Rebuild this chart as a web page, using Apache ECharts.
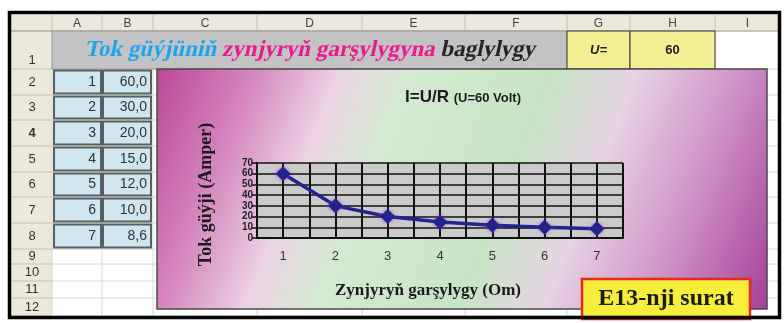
<!DOCTYPE html>
<html>
<head>
<meta charset="utf-8">
<script src="https://cdn.jsdelivr.net/npm/echarts@6/dist/echarts.min.js"></script>
<style>
  html, body { margin: 0; padding: 0; background: #fff; }
  #chart { width: 784px; height: 323px; }
</style>
</head>
<body>
<div id="chart"></div>
<script>
// chart data
const resistance = ['1', '2', '3', '4', '5', '6', '7']
const current = [60, 30, 20, 15, 12, 10, 8.6]
const yMax = 70
const yStep = 10

// sheet labels
const colLetters = ['A', 'B', 'C', 'D', 'E', 'F', 'G', 'H', 'I']
const rowNumbers = ['1', '2', '3', '4', '5', '6', '7', '8', '9', '10', '11', '12']
const titleParts = ['Tok güýjüniň ', 'zynjyryň garşylygyna ', 'baglylygy']
const titleColors = ['#1ea6ec', '#ec1a8c', '#262626']
const voltLabel = 'U='
const voltValue = '60'

// sheet layout (pixels)
const colEdges = [52, 102, 153, 257, 362, 465, 567, 630, 715, 780]
const rowEdges = [31, 69, 95, 120, 146, 172, 197, 223, 249, 264, 281, 298, 316]
const headTop = 15
const sheetLeft = 11

const headFill = '#ebe8dc'
const els = []

function line(x1, y1, x2, y2, color, w) {
  els.push({ type: 'line', shape: { x1, y1, x2, y2 }, style: { stroke: color, lineWidth: w || 1 }, silent: true })
}
function rect(x, y, width, height, style) {
  els.push({ type: 'rect', shape: { x, y, width, height }, style, silent: true })
}
function text(t, x, y, font, fill, align) {
  els.push({
    type: 'text', silent: true,
    style: { text: t, x, y, font, fill, align: align || 'center', verticalAlign: 'middle',
      textAlign: align || 'center', textVerticalAlign: 'middle' }
  })
}

// page + header strips
rect(0, 0, 784, 323, { fill: '#ffffff' })
rect(sheetLeft, headTop, 780 - sheetLeft, rowEdges[0] - headTop, { fill: headFill })
rect(sheetLeft, rowEdges[0], colEdges[0] - sheetLeft, 316 - rowEdges[0], { fill: headFill })

// cell grid
colEdges.forEach((x) => {
  line(x, headTop, x, rowEdges[0], '#c6c2b2')
  line(x, rowEdges[0], x, 316, '#d6d6d6')
})
rowEdges.forEach((y) => {
  line(sheetLeft, y, colEdges[0], y, '#c6c2b2')
  line(colEdges[0], y, 780, y, '#d6d6d6')
})
line(sheetLeft, rowEdges[0], 780, rowEdges[0], '#a8a498')

// header texts
colLetters.forEach((c, i) => {
  text(c, (colEdges[i] + colEdges[i + 1]) / 2, 23.5, '12px Arial', '#444')
})
rowNumbers.forEach((r, i) => {
  const top = rowEdges[i], bot = rowEdges[i + 1]
  const y = i === 0 ? bot - 9 : (top + bot) / 2
  text(r, 32, y, (i === 3 ? 'bold ' : '') + '13px Arial', '#333')
})

// row 1: merged title cell + U cells
rect(colEdges[0], rowEdges[0], colEdges[6] - colEdges[0], rowEdges[1] - rowEdges[0], { fill: '#c3c3c6', stroke: '#9a9a9a', lineWidth: 1 })
rect(colEdges[6], rowEdges[0], colEdges[7] - colEdges[6], rowEdges[1] - rowEdges[0], { fill: '#f5ef94', stroke: '#333', lineWidth: 1 })
rect(colEdges[7], rowEdges[0], colEdges[8] - colEdges[7], rowEdges[1] - rowEdges[0], { fill: '#f5ef94', stroke: '#333', lineWidth: 1 })
text(voltLabel, (colEdges[6] + colEdges[7]) / 2, 50, 'italic bold 13px Arial', '#222')
text(voltValue, (colEdges[7] + colEdges[8]) / 2, 50, 'bold 13px Arial', '#222')

// data cells A2:B8
resistance.forEach((r, i) => {
  const top = rowEdges[i + 1], h = rowEdges[i + 2] - top
  rect(colEdges[0] + 2, top + 1.5, colEdges[1] - colEdges[0] - 3, h - 3, { fill: '#cfe6f1', stroke: '#55605f', lineWidth: 2 })
  rect(colEdges[1] + 1, top + 1.5, colEdges[2] - colEdges[1] - 3, h - 3, { fill: '#cfe6f1', stroke: '#55605f', lineWidth: 2 })
  text(r, colEdges[1] - 6, top + h / 2, '14px Arial', '#333', 'right')
  text(current[i].toFixed(1).replace('.', ','), colEdges[2] - 6, top + h / 2, '14px Arial', '#333', 'right')
})

// embedded chart object background
rect(157, 69, 610, 240, {
  fill: new echarts.graphic.LinearGradient(0, 0, 1, 1, [
    { offset: 0, color: '#bb4797' },
    { offset: 0.14, color: '#d586bd' },
    { offset: 0.26, color: '#ecd2e4' },
    { offset: 0.36, color: '#d3ead0' },
    { offset: 0.56, color: '#c6e5c3' },
    { offset: 0.68, color: '#e6d4e4' },
    { offset: 0.82, color: '#d197c8' },
    { offset: 1, color: '#a5409a' }
  ]),
  stroke: '#4a4a4a', lineWidth: 1.5
})
const ctx = document.createElement('canvas').getContext('2d')
ctx.font = 'bold 17px Arial'
const tw1 = ctx.measureText('I=U/R ').width
ctx.font = 'bold 13px Arial'
const tw2 = ctx.measureText('(U=60 Volt)').width
const tStart = 463 - (tw1 + tw2) / 2
text('I=U/R ', tStart, 97, 'bold 17px Arial', '#1c1c1c', 'left')
text('(U=60 Volt)', tStart + tw1, 98, 'bold 13px Arial', '#1c1c1c', 'left')

// caption + outer frame (above everything)
const topEls = [
  { type: 'rect', silent: true, z: 100, shape: { x: 582, y: 279, width: 168, height: 40 }, style: { fill: '#f6ee3a', stroke: '#e62a1e', lineWidth: 2.5 } },
  { type: 'text', silent: true, z: 101, style: { text: 'E13-nji surat', x: 666, y: 299, font: 'bold 24px "Liberation Serif"', fill: '#1c1c1c', align: 'center', verticalAlign: 'middle', textAlign: 'center', textVerticalAlign: 'middle' } },
  { type: 'rect', silent: true, z: 102, shape: { x: 9.5, y: 12.5, width: 770, height: 305 }, style: { fill: null, stroke: '#000', lineWidth: 3.5 } }
]

const chart = echarts.init(document.getElementById('chart'))
chart.setOption({
  animation: false,
  graphic: { elements: els.map((e) => Object.assign({ z: 0 }, e)).concat(topEls) },
  grid: {
    left: 257, right: 161, top: 163, bottom: 85,
    show: true, backgroundColor: '#cbcbcb', borderWidth: 0, z: 3
  },
  xAxis: [
    {
      type: 'category',
      data: resistance,
      boundaryGap: true,
      z: 4,
      name: 'Zynjyryň garşylygy (Om)',
      nameLocation: 'middle',
      nameGap: 44,
      nameTextStyle: { fontFamily: 'Liberation Serif', fontWeight: 'bold', fontSize: 17, color: '#1a1a1a', padding: [0, 24, 0, 0] },
      axisLine: { lineStyle: { color: '#111', width: 2 } },
      axisTick: { length: 5, lineStyle: { color: '#111', width: 1.5 } },
      axisLabel: { fontFamily: 'Arial', fontSize: 13, color: '#333', margin: 12 },
      splitLine: { show: false }
    },
    {
      type: 'value',
      position: 'bottom',
      min: 0.5, max: 7.5, interval: 0.5,
      z: 4,
      axisLine: { show: false },
      axisTick: { show: false },
      axisLabel: { show: false },
      splitLine: { show: true, lineStyle: { color: '#111', width: 2 } }
    }
  ],
  yAxis: {
    type: 'value',
    min: 0, max: yMax, interval: yStep,
    z: 4,
    name: 'Tok güýji (Amper)',
    nameLocation: 'middle',
    nameGap: 42,
    nameTextStyle: { fontFamily: 'Liberation Serif', fontWeight: 'bold', fontSize: 18, color: '#1a1a1a', padding: [0, 0, 0, 12] },
    axisLine: { show: true, lineStyle: { color: '#111', width: 2 } },
    axisTick: { show: true, length: 5, lineStyle: { color: '#111', width: 1.5 } },
    axisLabel: {
      fontFamily: 'Arial', fontWeight: 'bold', fontSize: 10, color: '#222', margin: 4,
      showMinLabel: true, showMaxLabel: true, hideOverlap: false
    },
    splitLine: { show: true, lineStyle: { color: '#111', width: 1.5 } }
  },
  series: [
    {
      type: 'line',
      data: current,
      xAxisIndex: 0,
      z: 10,
      symbol: 'diamond',
      symbolSize: 15,
      lineStyle: { color: '#23238c', width: 3.5 },
      itemStyle: { color: '#23238c', shadowBlur: 4, shadowColor: 'rgba(150,60,200,0.7)' }
    }
  ]
})

// sheet title: bold serif runs slanted with a skew (no italic serif face here)
const titleFont = 'bold 23px "Liberation Serif"'
ctx.font = titleFont
const widths = titleParts.map((p) => ctx.measureText(p).width)
let tx = 311 - widths.reduce((a, b) => a + b, 0) / 2
titleParts.forEach((p, i) => {
  chart.getZr().add(new echarts.graphic.Text({
    x: tx, y: 50, skewX: -0.22, z: 50, silent: true,
    style: { text: p, x: 0, y: 0, font: titleFont, fill: titleColors[i], align: 'left', verticalAlign: 'middle' }
  }))
  tx += widths[i]
})
</script>
</body>
</html>
